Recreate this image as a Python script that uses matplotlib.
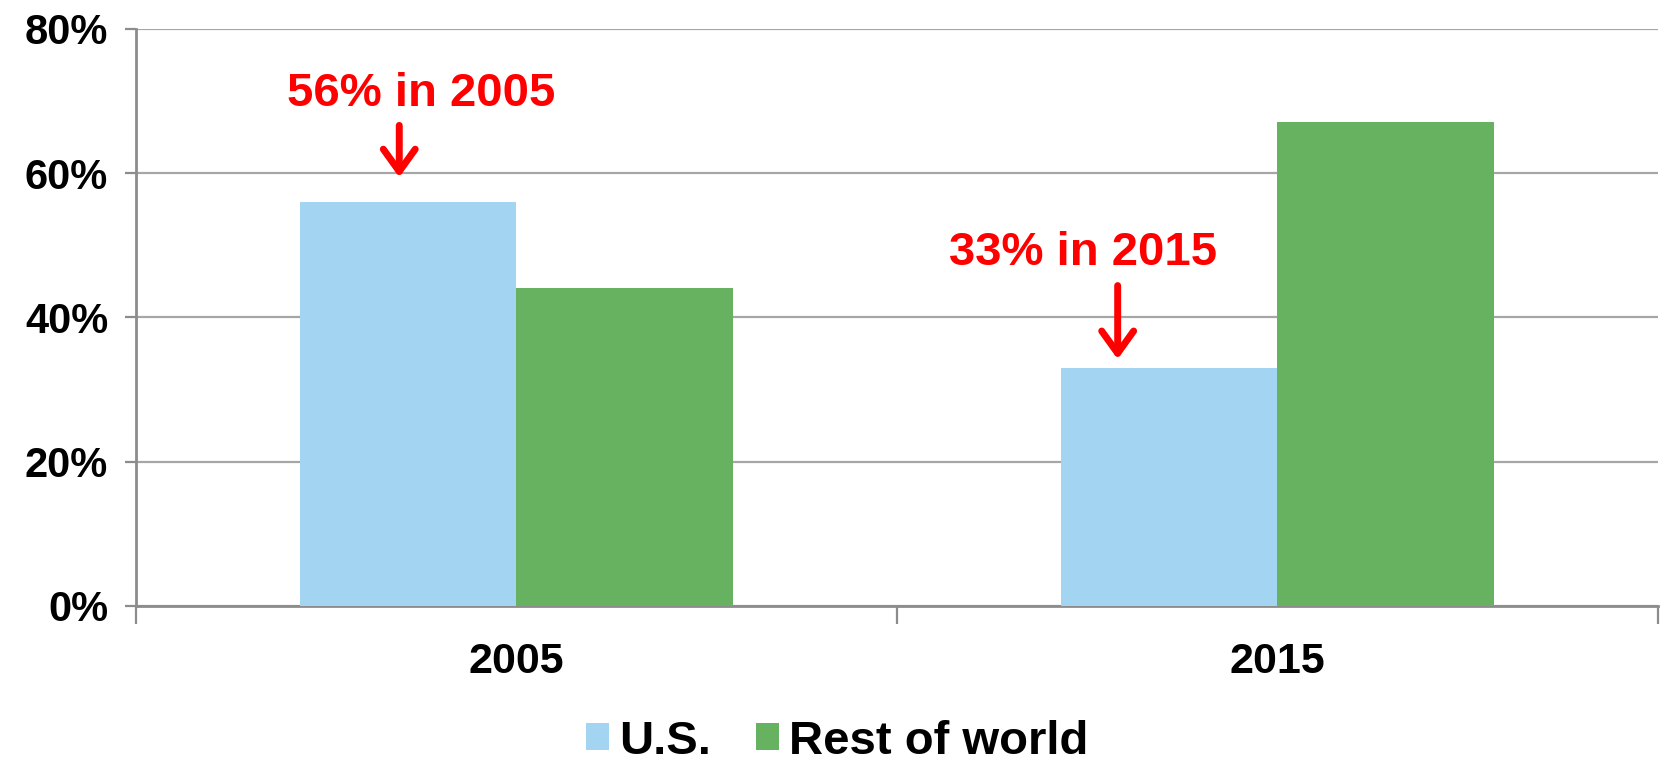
#!/usr/bin/env python3

import numpy as np
import matplotlib
matplotlib.use("Agg")
import matplotlib.pyplot as plt
import matplotlib.ticker as ticker
from matplotlib.patches import Patch

plt.rcParams["font.family"] = ["Liberation Sans", "DejaVu Sans"]
plt.rcParams["font.weight"] = "bold"

# Data
years = ["2005", "2015"]
us_share = [56, 33]
row_share = [44, 67]
series_names = ["U.S.", "Rest of world"]
yticks = [0, 20, 40, 60, 80]

# (text, arrow x, arrow tip y, arrow tail y, text x, text y)
callouts = [
    ("56% in 2005", -0.154, 59.4, 66.6, -0.125, 71.0),
    ("33% in 2015", 0.790, 34.2, 44.4, 0.745, 48.9),
]

BLUE = "#A3D5F3"
GREEN = "#67B261"
GRID = "#A6A6A6"
AXIS = "#8C8C8C"

fig = plt.figure(figsize=(16.64, 7.63), dpi=100)
ax = fig.add_axes([0.0817, 0.2058, 0.9147, 0.7566])

x = np.arange(len(years))
w = 0.285
ax.bar(x - w / 2, us_share, width=w, color=BLUE, zorder=3)
ax.bar(x + w / 2, row_share, width=w, color=GREEN, zorder=3)

ax.set_xlim(-0.5, 1.5)
ax.set_ylim(0, 80)

ax.set_yticks(yticks)
ax.yaxis.set_major_formatter(ticker.FuncFormatter(lambda v, p: f"{v:g}%"))
ax.yaxis.grid(True, color=GRID, linewidth=1.6, zorder=0)
ax.tick_params(axis="y", length=8, width=1.6, color=AXIS, labelsize=30, pad=12)

# category labels between separator ticks
ax.set_xticks([-0.5, 0.5, 1.5])
ax.set_xticklabels([])
ax.set_xticks(x, minor=True)
ax.set_xticklabels(years, minor=True)
ax.tick_params(axis="x", which="major", length=13, width=1.6, color=AXIS)
ax.tick_params(axis="x", which="minor", length=0, labelsize=31, pad=26)

for s in ["top", "right"]:
    ax.spines[s].set_visible(False)
for s in ["left", "bottom"]:
    ax.spines[s].set_color(AXIS)
    ax.spines[s].set_linewidth(2.0)

for text, ax_x, tip, tail, tx, ty in callouts:
    ax.annotate("", xy=(ax_x, tip), xytext=(ax_x, tail),
                arrowprops=dict(arrowstyle="->,head_length=1.6,head_width=1.15",
                                color="red", lw=5, capstyle="round",
                                joinstyle="round", shrinkA=0, shrinkB=0),
                zorder=5)
    ax.text(tx, ty, text, color="red", fontsize=34, fontweight="bold",
            ha="center", va="center", zorder=5)

handles = [Patch(facecolor=BLUE), Patch(facecolor=GREEN)]
fig.legend(handles, series_names, loc="center", bbox_to_anchor=(0.503, 0.028),
           ncol=2, frameon=False, fontsize=34, handlelength=0.5,
           handleheight=0.5, handletextpad=0.2, columnspacing=0.95)

fig.savefig("out.png", dpi=100)
